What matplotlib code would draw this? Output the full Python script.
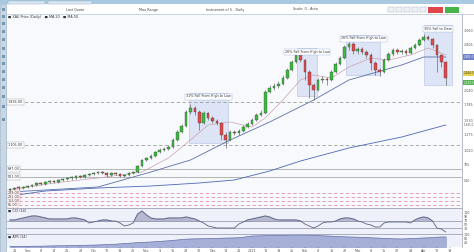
"""Daily candles with drawdown boxes, moving averages and two indicator panels."""

import matplotlib

matplotlib.use("Agg")
import numpy as np
from matplotlib import pyplot as plt
from matplotlib.patches import Rectangle

W, H = 474, 252

OPENS = [
    200, 210, 222, 220, 232, 240, 252, 270, 262, 280,
    292, 280, 300, 312, 318, 322, 342, 330, 350, 360,
    370, 382, 372, 350, 370, 360, 340, 350, 370, 380,
    440, 500, 520, 540, 580, 600, 610, 630, 700, 780,
    840, 980, 1020, 980, 870, 970, 920, 890, 870, 750,
    700, 780, 770, 790, 830, 860, 900, 950, 970, 1180,
    1220, 1240, 1260, 1320, 1400, 1480, 1550, 1500, 1380, 1250,
    1200, 1300, 1310, 1300, 1380, 1460, 1520, 1630, 1660, 1590,
    1610, 1580, 1550, 1470, 1400, 1380, 1500, 1560, 1600, 1580,
    1590, 1570, 1620, 1650, 1700, 1730, 1710, 1650, 1550, 1480,
]
HIGHS = [
    225, 235, 240, 245, 255, 265, 285, 280, 295, 305,
    300, 315, 325, 335, 340, 355, 350, 365, 375, 385,
    395, 395, 380, 385, 380, 370, 365, 385, 395, 455,
    515, 535, 560, 595, 620, 630, 650, 720, 800, 860,
    1000, 1060, 1040, 1000, 990, 985, 940, 910, 880, 780,
    800, 800, 810, 850, 880, 920, 970, 1000, 1200, 1250,
    1270, 1290, 1350, 1420, 1500, 1580, 1570, 1510, 1400, 1270,
    1320, 1340, 1330, 1400, 1480, 1540, 1650, 1700, 1680, 1630,
    1630, 1600, 1570, 1490, 1420, 1520, 1580, 1620, 1620, 1610,
    1610, 1640, 1670, 1720, 1760, 1750, 1720, 1660, 1560, 1490,
]
LOWS = [
    190, 200, 205, 210, 222, 230, 245, 250, 255, 270,
    270, 275, 290, 300, 305, 315, 325, 325, 340, 350,
    360, 362, 335, 340, 352, 330, 330, 345, 360, 370,
    430, 490, 510, 530, 570, 590, 600, 620, 690, 770,
    830, 960, 950, 800, 860, 900, 870, 850, 700, 620,
    690, 750, 750, 780, 820, 850, 890, 940, 960, 1170,
    1200, 1220, 1250, 1310, 1390, 1470, 1480, 1300, 1120, 1100,
    1190, 1270, 1250, 1290, 1370, 1450, 1510, 1600, 1560, 1560,
    1560, 1520, 1400, 1350, 1340, 1370, 1490, 1540, 1560, 1560,
    1550, 1560, 1610, 1640, 1690, 1700, 1620, 1380, 1430, 1250,
]
CLOSES = [
    210, 220, 220, 230, 240, 250, 270, 260, 280, 290,
    280, 300, 310, 320, 320, 340, 330, 350, 360, 370,
    380, 370, 350, 370, 360, 340, 350, 370, 380, 440,
    500, 520, 540, 580, 600, 610, 630, 700, 780, 840,
    980, 1020, 980, 870, 970, 920, 890, 870, 750, 700,
    780, 770, 790, 830, 860, 900, 950, 970, 1180, 1220,
    1240, 1260, 1320, 1400, 1480, 1550, 1500, 1380, 1250, 1200,
    1300, 1310, 1300, 1380, 1460, 1520, 1630, 1660, 1590, 1610,
    1580, 1550, 1470, 1400, 1380, 1500, 1560, 1600, 1580, 1590,
    1570, 1620, 1650, 1700, 1730, 1710, 1650, 1550, 1480, 1320,
]

# moving averages, sampled at candle numbers
MA20_DAY = [0, 10, 20, 30, 36, 41, 45, 50, 55, 58, 62, 66, 69, 73, 77, 82, 86, 91, 95, 99]
MA20 = [200, 270, 320, 380, 520, 700, 850, 880, 830, 920, 1100, 1300, 1350, 1320, 1430, 1520, 1500, 1550, 1620, 1550]
MA50_DAY = [0, 20, 32, 41, 50, 59, 69, 77, 89, 94, 99]
MA50 = [180, 230, 380, 500, 700, 880, 1100, 1300, 1450, 1530, 1530]
MA200_DAY = [0, 8, 20, 32, 43, 51, 59, 66, 77, 89, 99]
MA200 = [140, 190, 220, 240, 270, 300, 390, 490, 620, 730, 850]

OSCILLATOR = [
    75, 75, 80, 85, 90, 95, 95, 90, 85, 80,
    80, 80, 80, 80, 85, 85, 80, 75, 60, 65,
    70, 75, 75, 70, 70, 60, 45, 50, 60, 105,
    120, 100, 85, 80, 80, 80, 85, 85, 85, 85,
    90, 85, 80, 70, 60, 45, 40, 35, 35, 35,
    35, 35, 55, 65, 75, 80, 85, 90, 95, 90,
    80, 75, 75, 75, 75, 75, 70, 55, 45, 35,
    45, 60, 65, 65, 70, 80, 85, 85, 80, 70,
    65, 55, 50, 40, 40, 60, 65, 65, 65, 65,
    65, 60, 75, 85, 90, 85, 70, 35, 30, 15,
]
OSC_LEVELS = [70, 35]

VOLATILITY = [
    5, 5, 6, 6, 7, 7, 8, 8, 9, 10,
    11, 12, 12, 13, 14, 15, 16, 17, 18, 19,
    20, 22, 24, 26, 28, 31, 34, 37, 40, 44,
    46, 48, 50, 53, 56, 59, 62, 66, 70, 74,
    78, 80, 81, 82, 83, 84, 85, 86, 88, 89,
    90, 91, 93, 97, 104, 110, 111, 112, 113, 114,
    115, 116, 117, 118, 119, 120, 120, 119, 118, 116,
    114, 112, 110, 108, 106, 104, 102, 100, 99, 98,
    96, 94, 92, 90, 88, 86, 84, 82, 81, 80,
    82, 84, 86, 88, 90, 92, 94, 98, 100, 100,
]

# (first day, last day, low, high, label)
BOXES = [
    (40.6, 49.5, 670, 1170, "31% Fall From High to Low"),
    (65.2, 69.8, 1140, 1620, "26% Fall From High to Low"),
    (76.4, 84.1, 1350, 1750, "26% Fall From High to Low"),
    (94.1, 100.5, 1250, 1850, "35% Fall to Date"),
]
GREY_DASHED = [1080, 650]
GREY_SOLID = [410, 330]
PINK_DASHED = [170, 130, 90, 50]
PRICE_TICKS = [300, 450, 600, 750, 900, 1050, 1200, 1650, 1800]

DATE_LABELS = [
    "21", "Sep", "8", "14", "21", "28", "Oct", "12", "19", "26", "Nov", "9",
    "16", "23", "30", "Dec", "14", "21", "2021", "11", "19", "25", "Feb", "8",
    "16", "22", "Mar", "8", "15", "22", "29", "Apr", "12", "19",
]

UP, DOWN = "#3dbb3d", "#e2474b"
BG = "#f7f9fd"
FS = 2.4


def px_rect(x0, y0, x1, y1):
    return [x0 / W, 1 - y1 / H, (x1 - x0) / W, (y1 - y0) / H]


def style_panel(ax, bg):
    ax.set_facecolor(bg)
    for side in ["top", "left", "bottom"]:
        ax.spines[side].set_visible(False)
    ax.spines["right"].set_color("#9aa3b5")
    ax.spines["right"].set_linewidth(0.5)
    ax.yaxis.tick_right()
    ax.tick_params(axis="y", length=0, labelsize=FS, colors="#555555", pad=1.5)
    ax.set_xticks([])
    ax.set_xlim(-0.68, 102.7)


def level_tag(ax, value, colour):
    ax.text(0.002, value, f"{value * 1.7:,.2f}", transform=ax.get_yaxis_transform(),
            fontsize=FS, va="center", ha="left", color="#333333",
            bbox=dict(boxstyle="square,pad=0.25", fc="white", ec=colour, lw=0.3))


def value_tag(ax, value, text, face, ink):
    ax.text(1.003, value, text, transform=ax.get_yaxis_transform(), fontsize=2.0,
            color=ink, va="center", ha="left",
            bbox=dict(boxstyle="square,pad=0.2", fc=face, ec="none"))


def draw_main(fig):
    ax = fig.add_axes(px_rect(7, 14, 462, 208))
    style_panel(ax, BG)
    ax.set_ylim(20, 1960)
    ax.set_yticks(PRICE_TICKS)
    ax.set_yticklabels([f"{p * 1.7:,.0f}" for p in PRICE_TICKS])

    for lvl in GREY_DASHED:
        ax.axhline(lvl, color="#9c9c9c", lw=0.6, ls=(0, (4, 3)))
        level_tag(ax, lvl, "#9c9c9c")
    for lvl in GREY_SOLID:
        ax.axhline(lvl, color="#a8a8a8", lw=0.6)
        level_tag(ax, lvl, "#9c9c9c")
    for lvl in PINK_DASHED:
        ax.axhline(lvl, color="#e58fa0", lw=0.6, ls=(0, (4, 3)))
        level_tag(ax, lvl, "#e58fa0")

    for x0, x1, lo, hi, label in BOXES:
        ax.add_patch(Rectangle((x0, lo), x1 - x0, hi - lo, fc="#d3def3", ec="#9fb2d8",
                               lw=0.4, alpha=0.75, zorder=1))
        ax.text((x0 + x1) / 2, hi - 15, label, fontsize=FS, ha="center", va="top",
                color="#333333", zorder=4,
                bbox=dict(boxstyle="square,pad=0.3", fc="white", ec="#9fb2d8", lw=0.3))

    ax.plot(MA200_DAY, MA200, color="#4d68b5", lw=0.6, zorder=2)
    ax.plot(MA50_DAY, MA50, color="#5d6fa8", lw=0.6, zorder=2)
    ax.plot(MA20_DAY, MA20, color="#c9a2ab", lw=0.5, zorder=2)

    o, h, l, c = (np.array(a) for a in (OPENS, HIGHS, LOWS, CLOSES))
    days = np.arange(len(c))
    colours = np.where(c >= o, UP, DOWN)
    ax.vlines(days, l, h, colors="#4a4a4a", lw=0.4, zorder=3)
    body = np.maximum(np.abs(c - o), 8)
    ax.bar(days, body, bottom=np.minimum(o, c), width=0.6, color=colours,
           edgecolor="#3a3a3a", linewidth=0.25, zorder=3)

    # last value tags on the price scale
    value_tag(ax, MA50[-1], "2,601.0", "#6f7fcc", "white")
    value_tag(ax, CLOSES[-1] + 45, "2,244.0", "#e7d44b", "#333333")
    value_tag(ax, CLOSES[-1] - 45, "2,229.0", "#52b552", "white")
    value_tag(ax, MA200[-1], "1,445.0", "white", "#555555")

    ax.text(0.003, 0.995, "■ XAU Price (Daily)   ■ MA 20   ■ MA 50",
            transform=ax.transAxes, fontsize=FS, va="top", color="#333333")
    return ax


def draw_oscillator(fig):
    ax = fig.add_axes(px_rect(7, 208, 462, 234))
    style_panel(ax, "#eef1f9")
    ax.set_ylim(5, 135)
    ax.set_yticks([30, 50, 70, 90, 110])
    days = np.arange(len(OSCILLATOR))
    osc = np.array(OSCILLATOR)
    for lvl in OSC_LEVELS:
        ax.axhline(lvl, color="#8a90a8", lw=0.5)
    ax.fill_between(days, osc, OSC_LEVELS[0], where=osc > OSC_LEVELS[0],
                    interpolate=True, color="#b5b8cf")
    ax.plot(days, osc, color="#5b6283", lw=0.6)
    ax.axhline(135, color="#9aa3b5", lw=0.6)
    ax.text(0.003, 0.97, "■ CCI (14)", transform=ax.transAxes, fontsize=FS,
            va="top", color="#333333")


def draw_volatility(fig):
    ax = fig.add_axes(px_rect(7, 234, 462, 247))
    style_panel(ax, "#eef1f9")
    ax.set_ylim(0, 130)
    ax.set_yticks([40, 80, 120])
    days = np.arange(len(VOLATILITY))
    ax.fill_between(days, VOLATILITY, 0, color="#a6afd8")
    ax.plot(days, VOLATILITY, color="#6b74aa", lw=0.5)
    ax.axhline(130, color="#9aa3b5", lw=0.6)
    ax.text(0.003, 0.95, "■ ATR (14)", transform=ax.transAxes, fontsize=FS,
            va="top", color="#333333")

    ax.set_xticks(np.arange(1, 101, 3))
    ax.set_xticklabels(DATE_LABELS)
    ax.tick_params(axis="x", length=1, width=0.3, labelsize=FS, colors="#555555", pad=0.5)


def draw_frame(fig):
    # window tabs and toolbar
    fig.add_artist(Rectangle((0, 1 - 4 / H), 1, 4 / H, transform=fig.transFigure,
                             fc="#a9c9e0", ec="none"))
    for x0, x1 in [(8, 45), (48, 92)]:
        fig.add_artist(Rectangle((x0 / W, 1 - 4 / H), (x1 - x0) / W, 3.5 / H,
                                 transform=fig.transFigure, fc="#dbe8f2", ec="#8aa8c0", lw=0.3))
    fig.add_artist(Rectangle((0, 0), 6 / W, 1 - 4 / H, transform=fig.transFigure,
                             fc="#c7d7e6", ec="#8fa8bf", lw=0.4))
    for y in [8, 15, 22, 30, 38, 47, 55, 62, 70, 78, 86, 95, 105, 118]:
        fig.add_artist(Rectangle((1.5 / W, 1 - (y + 3) / H), 3 / W, 3 / H,
                                 transform=fig.transFigure, fc="#7895b0", ec="none"))
    fig.add_artist(plt.Line2D([6 / W, 1], [1 - 14 / H] * 2, transform=fig.transFigure,
                              color="#b9c3cf", lw=0.5))
    for x, txt in [(75, "Last Quote"), (148, "Max Range"), (225, "Instrument of 5 - Daily"),
                   (305, "Scale: 0 - Auto")]:
        fig.text(x / W, 1 - 9.5 / H, txt, fontsize=FS, ha="center", va="center", color="#444444")
    for x in [388, 396, 404, 412, 420]:
        fig.add_artist(Rectangle((x / W, 1 - 12 / H), 6 / W, 5 / H, transform=fig.transFigure,
                                 fc="#eef2f6", ec="#9aa8b8", lw=0.3))
    fig.add_artist(Rectangle((428 / W, 1 - 13 / H), 15 / W, 6 / H, transform=fig.transFigure,
                             fc="#e0454a", ec="none"))
    fig.add_artist(Rectangle((445 / W, 1 - 13 / H), 14 / W, 6 / H, transform=fig.transFigure,
                             fc="#45b548", ec="none"))


def main():
    fig = plt.figure(figsize=(W / 100, H / 100), dpi=100, facecolor="white")
    draw_main(fig)
    draw_oscillator(fig)
    draw_volatility(fig)
    draw_frame(fig)
    fig.savefig("out.png", dpi=100, facecolor="white")


if __name__ == "__main__":
    main()
